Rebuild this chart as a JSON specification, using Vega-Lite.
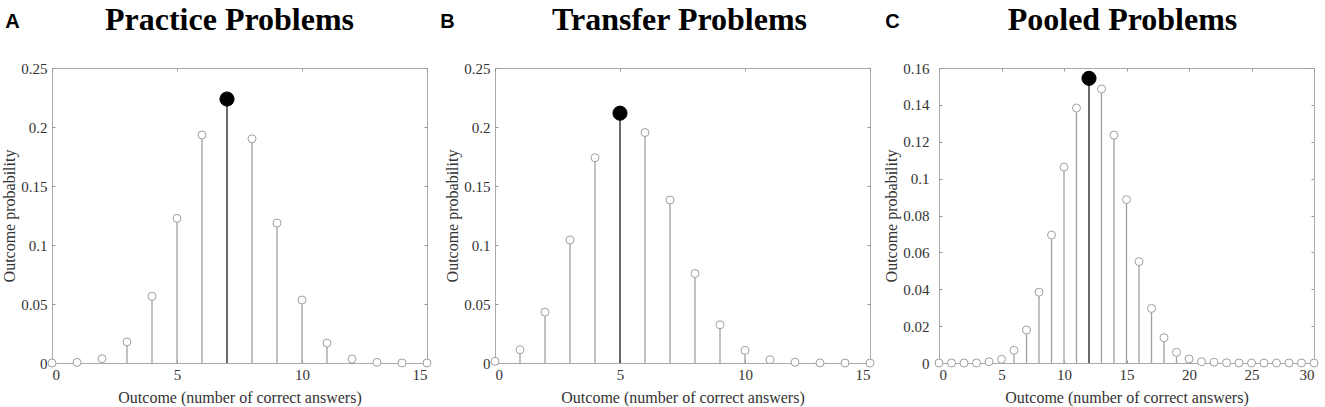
{
  "$schema": "https://vega.github.io/schema/vega-lite/v6.json",
  "background": "white",
  "padding": {"left": 1, "top": 3, "right": 5, "bottom": 5},
  "datasets": {
    "A": [
      {"n": 0, "p": 0, "kind": "other"}, {"n": 1, "p": 0.0005, "kind": "other"}, {"n": 2, "p": 0.0037, "kind": "other"},
      {"n": 3, "p": 0.0178, "kind": "other"}, {"n": 4, "p": 0.0565, "kind": "other"}, {"n": 5, "p": 0.1226, "kind": "other"},
      {"n": 6, "p": 0.1932, "kind": "other"}, {"n": 7, "p": 0.2237, "kind": "mode"}, {"n": 8, "p": 0.190, "kind": "other"},
      {"n": 9, "p": 0.1186, "kind": "other"}, {"n": 10, "p": 0.0534, "kind": "other"}, {"n": 11, "p": 0.0169, "kind": "other"},
      {"n": 12, "p": 0.0034, "kind": "other"}, {"n": 13, "p": 0.0005, "kind": "other"}, {"n": 14, "p": 0.0001, "kind": "other"},
      {"n": 15, "p": 0, "kind": "other"}
    ],
    "B": [
      {"n": 0, "p": 0.0014, "kind": "other"}, {"n": 1, "p": 0.0113, "kind": "other"}, {"n": 2, "p": 0.0431, "kind": "other"},
      {"n": 3, "p": 0.1043, "kind": "other"}, {"n": 4, "p": 0.174, "kind": "other"}, {"n": 5, "p": 0.2117, "kind": "mode"},
      {"n": 6, "p": 0.1953, "kind": "other"}, {"n": 7, "p": 0.1381, "kind": "other"}, {"n": 8, "p": 0.0758, "kind": "other"},
      {"n": 9, "p": 0.0324, "kind": "other"}, {"n": 10, "p": 0.0107, "kind": "other"}, {"n": 11, "p": 0.0028, "kind": "other"},
      {"n": 12, "p": 0.0006, "kind": "other"}, {"n": 13, "p": 0.0001, "kind": "other"}, {"n": 14, "p": 0, "kind": "other"},
      {"n": 15, "p": 0, "kind": "other"}
    ],
    "C": [
      {"n": 0, "p": 0, "kind": "other"}, {"n": 1, "p": 0, "kind": "other"}, {"n": 2, "p": 0, "kind": "other"},
      {"n": 3, "p": 0, "kind": "other"}, {"n": 4, "p": 0.0007, "kind": "other"}, {"n": 5, "p": 0.002, "kind": "other"},
      {"n": 6, "p": 0.0069, "kind": "other"}, {"n": 7, "p": 0.0179, "kind": "other"}, {"n": 8, "p": 0.0384, "kind": "other"},
      {"n": 9, "p": 0.0694, "kind": "other"}, {"n": 10, "p": 0.1062, "kind": "other"}, {"n": 11, "p": 0.1383, "kind": "other"},
      {"n": 12, "p": 0.1544, "kind": "mode"}, {"n": 13, "p": 0.1486, "kind": "other"}, {"n": 14, "p": 0.1236, "kind": "other"},
      {"n": 15, "p": 0.0886, "kind": "other"}, {"n": 16, "p": 0.055, "kind": "other"}, {"n": 17, "p": 0.0296, "kind": "other"},
      {"n": 18, "p": 0.0137, "kind": "other"}, {"n": 19, "p": 0.0058, "kind": "other"}, {"n": 20, "p": 0.0022, "kind": "other"},
      {"n": 21, "p": 0.0007, "kind": "other"}, {"n": 22, "p": 0.0004, "kind": "other"}, {"n": 23, "p": 0.0001, "kind": "other"},
      {"n": 24, "p": 0, "kind": "other"}, {"n": 25, "p": 0, "kind": "other"}, {"n": 26, "p": 0, "kind": "other"},
      {"n": 27, "p": 0, "kind": "other"}, {"n": 28, "p": 0, "kind": "other"}, {"n": 29, "p": 0, "kind": "other"},
      {"n": 30, "p": 0, "kind": "other"}
    ]
  },
  "spacing": 6,
  "hconcat": [
    {
      "title": {"text": "A", "anchor": "start", "frame": "bounds", "font": "Liberation Sans", "fontSize": 20, "fontWeight": "bold", "color": "#000", "offset": 0, "dy": 28, "dx": 4},
      "vconcat": [
        {
          "title": {"text": "Practice Problems", "anchor": "middle", "font": "Liberation Serif", "fontSize": 32, "fontWeight": "bold", "color": "#000", "offset": 24, "dx": -10},
          "width": 375, "height": 295,
          "data": {"name": "A"},
          "resolve": {"axis": {"x": "independent", "y": "independent"}},
          "layer": [
            {
              "mark": {"type": "rule", "strokeWidth": 1.3},
              "encoding": {
                "x": {"field": "n", "type": "quantitative", "scale": {"domain": [0, 15], "nice": false}, "axis": {"orient": "bottom", "values": [0, 5, 10, 15], "title": "Outcome (number of correct answers)"}},
                "y": {"field": "p", "type": "quantitative", "scale": {"domain": [0, 0.25], "nice": false}, "axis": {"orient": "left", "values": [0, 0.05, 0.1, 0.15, 0.2, 0.25], "format": "~g", "title": "Outcome probability"}},
                "y2": {"datum": 0},
                "color": {"field": "kind", "type": "nominal", "scale": {"domain": ["other", "mode"], "range": ["#a0a0a0", "#1a1a1a"]}, "legend": null}
              }
            },
            {
              "mark": {"type": "point", "filled": false, "strokeWidth": 1, "opacity": 1},
              "encoding": {
                "x": {"field": "n", "type": "quantitative", "axis": {"orient": "top", "values": [0, 5, 10, 15], "labels": false, "title": null}},
                "y": {"field": "p", "type": "quantitative", "axis": {"orient": "right", "values": [0, 0.05, 0.1, 0.15, 0.2, 0.25], "labels": false, "title": null}},
                "stroke": {"field": "kind", "type": "nominal", "scale": {"domain": ["other", "mode"], "range": ["#a0a0a0", "#000000"]}, "legend": null},
                "fill": {"field": "kind", "type": "nominal", "scale": {"domain": ["other", "mode"], "range": ["#ffffff", "#000000"]}, "legend": null},
                "size": {"field": "kind", "type": "nominal", "scale": {"domain": ["other", "mode"], "range": [64, 200]}, "legend": null}
              }
            }
          ]
        }
      ]
    },
    {
      "title": {"text": "B", "anchor": "start", "frame": "bounds", "font": "Liberation Sans", "fontSize": 20, "fontWeight": "bold", "color": "#000", "offset": 0, "dy": 28, "dx": -4},
      "vconcat": [
        {
          "title": {"text": "Transfer Problems", "anchor": "middle", "font": "Liberation Serif", "fontSize": 32, "fontWeight": "bold", "color": "#000", "offset": 24, "dx": -3},
          "width": 375, "height": 295,
          "data": {"name": "B"},
          "resolve": {"axis": {"x": "independent", "y": "independent"}},
          "layer": [
            {
              "mark": {"type": "rule", "strokeWidth": 1.3},
              "encoding": {
                "x": {"field": "n", "type": "quantitative", "scale": {"domain": [0, 15], "nice": false}, "axis": {"orient": "bottom", "values": [0, 5, 10, 15], "title": "Outcome (number of correct answers)"}},
                "y": {"field": "p", "type": "quantitative", "scale": {"domain": [0, 0.25], "nice": false}, "axis": {"orient": "left", "values": [0, 0.05, 0.1, 0.15, 0.2, 0.25], "format": "~g", "title": "Outcome probability"}},
                "y2": {"datum": 0},
                "color": {"field": "kind", "type": "nominal", "scale": {"domain": ["other", "mode"], "range": ["#a0a0a0", "#1a1a1a"]}, "legend": null}
              }
            },
            {
              "mark": {"type": "point", "filled": false, "strokeWidth": 1, "opacity": 1},
              "encoding": {
                "x": {"field": "n", "type": "quantitative", "axis": {"orient": "top", "values": [0, 5, 10, 15], "labels": false, "title": null}},
                "y": {"field": "p", "type": "quantitative", "axis": {"orient": "right", "values": [0, 0.05, 0.1, 0.15, 0.2, 0.25], "labels": false, "title": null}},
                "stroke": {"field": "kind", "type": "nominal", "scale": {"domain": ["other", "mode"], "range": ["#a0a0a0", "#000000"]}, "legend": null},
                "fill": {"field": "kind", "type": "nominal", "scale": {"domain": ["other", "mode"], "range": ["#ffffff", "#000000"]}, "legend": null},
                "size": {"field": "kind", "type": "nominal", "scale": {"domain": ["other", "mode"], "range": [64, 200]}, "legend": null}
              }
            }
          ]
        }
      ]
    },
    {
      "title": {"text": "C", "anchor": "start", "frame": "bounds", "font": "Liberation Sans", "fontSize": 20, "fontWeight": "bold", "color": "#000", "offset": 0, "dy": 28, "dx": 2},
      "vconcat": [
        {
          "title": {"text": "Pooled Problems", "anchor": "middle", "font": "Liberation Serif", "fontSize": 32, "fontWeight": "bold", "color": "#000", "offset": 24, "dx": -4},
          "width": 375, "height": 295,
          "data": {"name": "C"},
          "resolve": {"axis": {"x": "independent", "y": "independent"}},
          "layer": [
            {
              "mark": {"type": "rule", "strokeWidth": 1.3},
              "encoding": {
                "x": {"field": "n", "type": "quantitative", "scale": {"domain": [0, 30], "nice": false}, "axis": {"orient": "bottom", "values": [0, 5, 10, 15, 20, 25, 30], "title": "Outcome (number of correct answers)"}},
                "y": {"field": "p", "type": "quantitative", "scale": {"domain": [0, 0.16], "nice": false}, "axis": {"orient": "left", "values": [0, 0.02, 0.04, 0.06, 0.08, 0.1, 0.12, 0.14, 0.16], "format": "~g", "title": "Outcome probability", "labelPadding": 13, "titlePadding": 3}},
                "y2": {"datum": 0},
                "color": {"field": "kind", "type": "nominal", "scale": {"domain": ["other", "mode"], "range": ["#a0a0a0", "#1a1a1a"]}, "legend": null}
              }
            },
            {
              "mark": {"type": "point", "filled": false, "strokeWidth": 1, "opacity": 1},
              "encoding": {
                "x": {"field": "n", "type": "quantitative", "axis": {"orient": "top", "values": [0, 5, 10, 15, 20, 25, 30], "labels": false, "title": null}},
                "y": {"field": "p", "type": "quantitative", "axis": {"orient": "right", "values": [0, 0.02, 0.04, 0.06, 0.08, 0.1, 0.12, 0.14, 0.16], "labels": false, "title": null}},
                "stroke": {"field": "kind", "type": "nominal", "scale": {"domain": ["other", "mode"], "range": ["#a0a0a0", "#000000"]}, "legend": null},
                "fill": {"field": "kind", "type": "nominal", "scale": {"domain": ["other", "mode"], "range": ["#ffffff", "#000000"]}, "legend": null},
                "size": {"field": "kind", "type": "nominal", "scale": {"domain": ["other", "mode"], "range": [64, 200]}, "legend": null}
              }
            }
          ]
        }
      ]
    }
  ],
  "config": {
    "view": {"stroke": "#aaaaaa", "strokeWidth": 1},
    "axis": {
      "grid": false,
      "domain": false,
      "ticks": true,
      "tickSize": -3,
      "tickColor": "#999999",
      "labelFont": "Liberation Serif",
      "labelFontSize": 15,
      "labelColor": "#333333",
      "titleFont": "Liberation Serif",
      "titleFontSize": 16,
      "titleFontWeight": "normal",
      "titleColor": "#333333"
    },
    "axisX": {"labelPadding": 7, "titlePadding": 7},
    "axisY": {"labelPadding": 8, "titlePadding": 3}
  }
}
